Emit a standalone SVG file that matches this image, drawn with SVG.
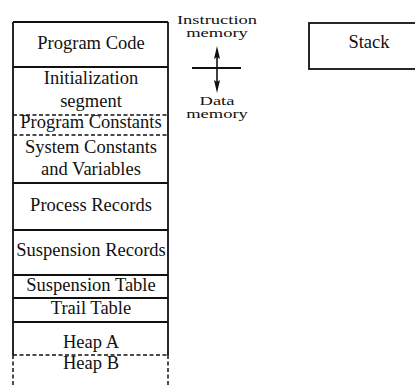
<svg xmlns="http://www.w3.org/2000/svg" width="415" height="385" viewBox="0 0 415 385">
<style>
text{font-family:"Liberation Serif","Times New Roman",serif;font-size:18.5px;fill:#111;text-anchor:middle}
.s{stroke:#111;stroke-width:1.8;fill:none}
.d{stroke:#111;stroke-width:1.5;fill:none;stroke-dasharray:4 2.5}
.ah{fill:#111}
</style>
<rect width="415" height="385" fill="#fff"/>
<g id="column">
<path class="s" d="M13 22 H168 M13 22 V355 M168 22 V355"/>
<path class="d" d="M13 355 V385 M168 355 V385"/>
</g>
<g id="program-code"><path class="s" d="M13 67 H168"/><text x="91" y="49">Program Code</text></g>
<g id="init-segment"><path class="d" d="M13 115 H168"/><text x="91" y="84">Initialization</text><text x="91" y="107">segment</text></g>
<g id="program-constants"><path class="d" d="M13 135 H168"/><text x="91" y="128">Program Constants</text></g>
<g id="system-constants"><path class="s" d="M13 183 H168"/><text x="91" y="153">System Constants</text><text x="91" y="175">and Variables</text></g>
<g id="process-records"><path class="s" d="M13 230 H168"/><text x="91" y="211">Process Records</text></g>
<g id="suspension-records"><path class="s" d="M13 275 H168"/><text x="91" y="256">Suspension Records</text></g>
<g id="suspension-table"><path class="s" d="M13 298 H168"/><text x="91" y="291">Suspension Table</text></g>
<g id="trail-table"><path class="s" d="M13 322 H168"/><text x="91" y="314">Trail Table</text></g>
<g id="heap-a"><path class="d" d="M13 355 H168"/><text x="91" y="348">Heap A</text></g>
<g id="heap-b"><text x="91" y="369">Heap B</text></g>
<g id="instruction-memory">
<text transform="translate(217,24) scale(1,0.65)">Instruction</text>
<text transform="translate(217,37) scale(1,0.65)">memory</text>
</g>
<g id="data-memory">
<text transform="translate(217,105) scale(1,0.65)">Data</text>
<text transform="translate(217,118) scale(1,0.65)">memory</text>
</g>
<g id="stack"><rect class="s" x="309" y="23" width="120" height="46" stroke-width="2.2"/><text x="369" y="48">Stack</text></g>
<g id="connectors">
<path class="s" d="M192 68 H241"/>
<path d="M217 52 V88" stroke="#111" stroke-width="1.6" fill="none"/>
<polygon class="ah" points="217,46 220,59 217,57 214,59"/>
<polygon class="ah" points="217,93 220,80 217,82 214,80"/>
</g>
</svg>
